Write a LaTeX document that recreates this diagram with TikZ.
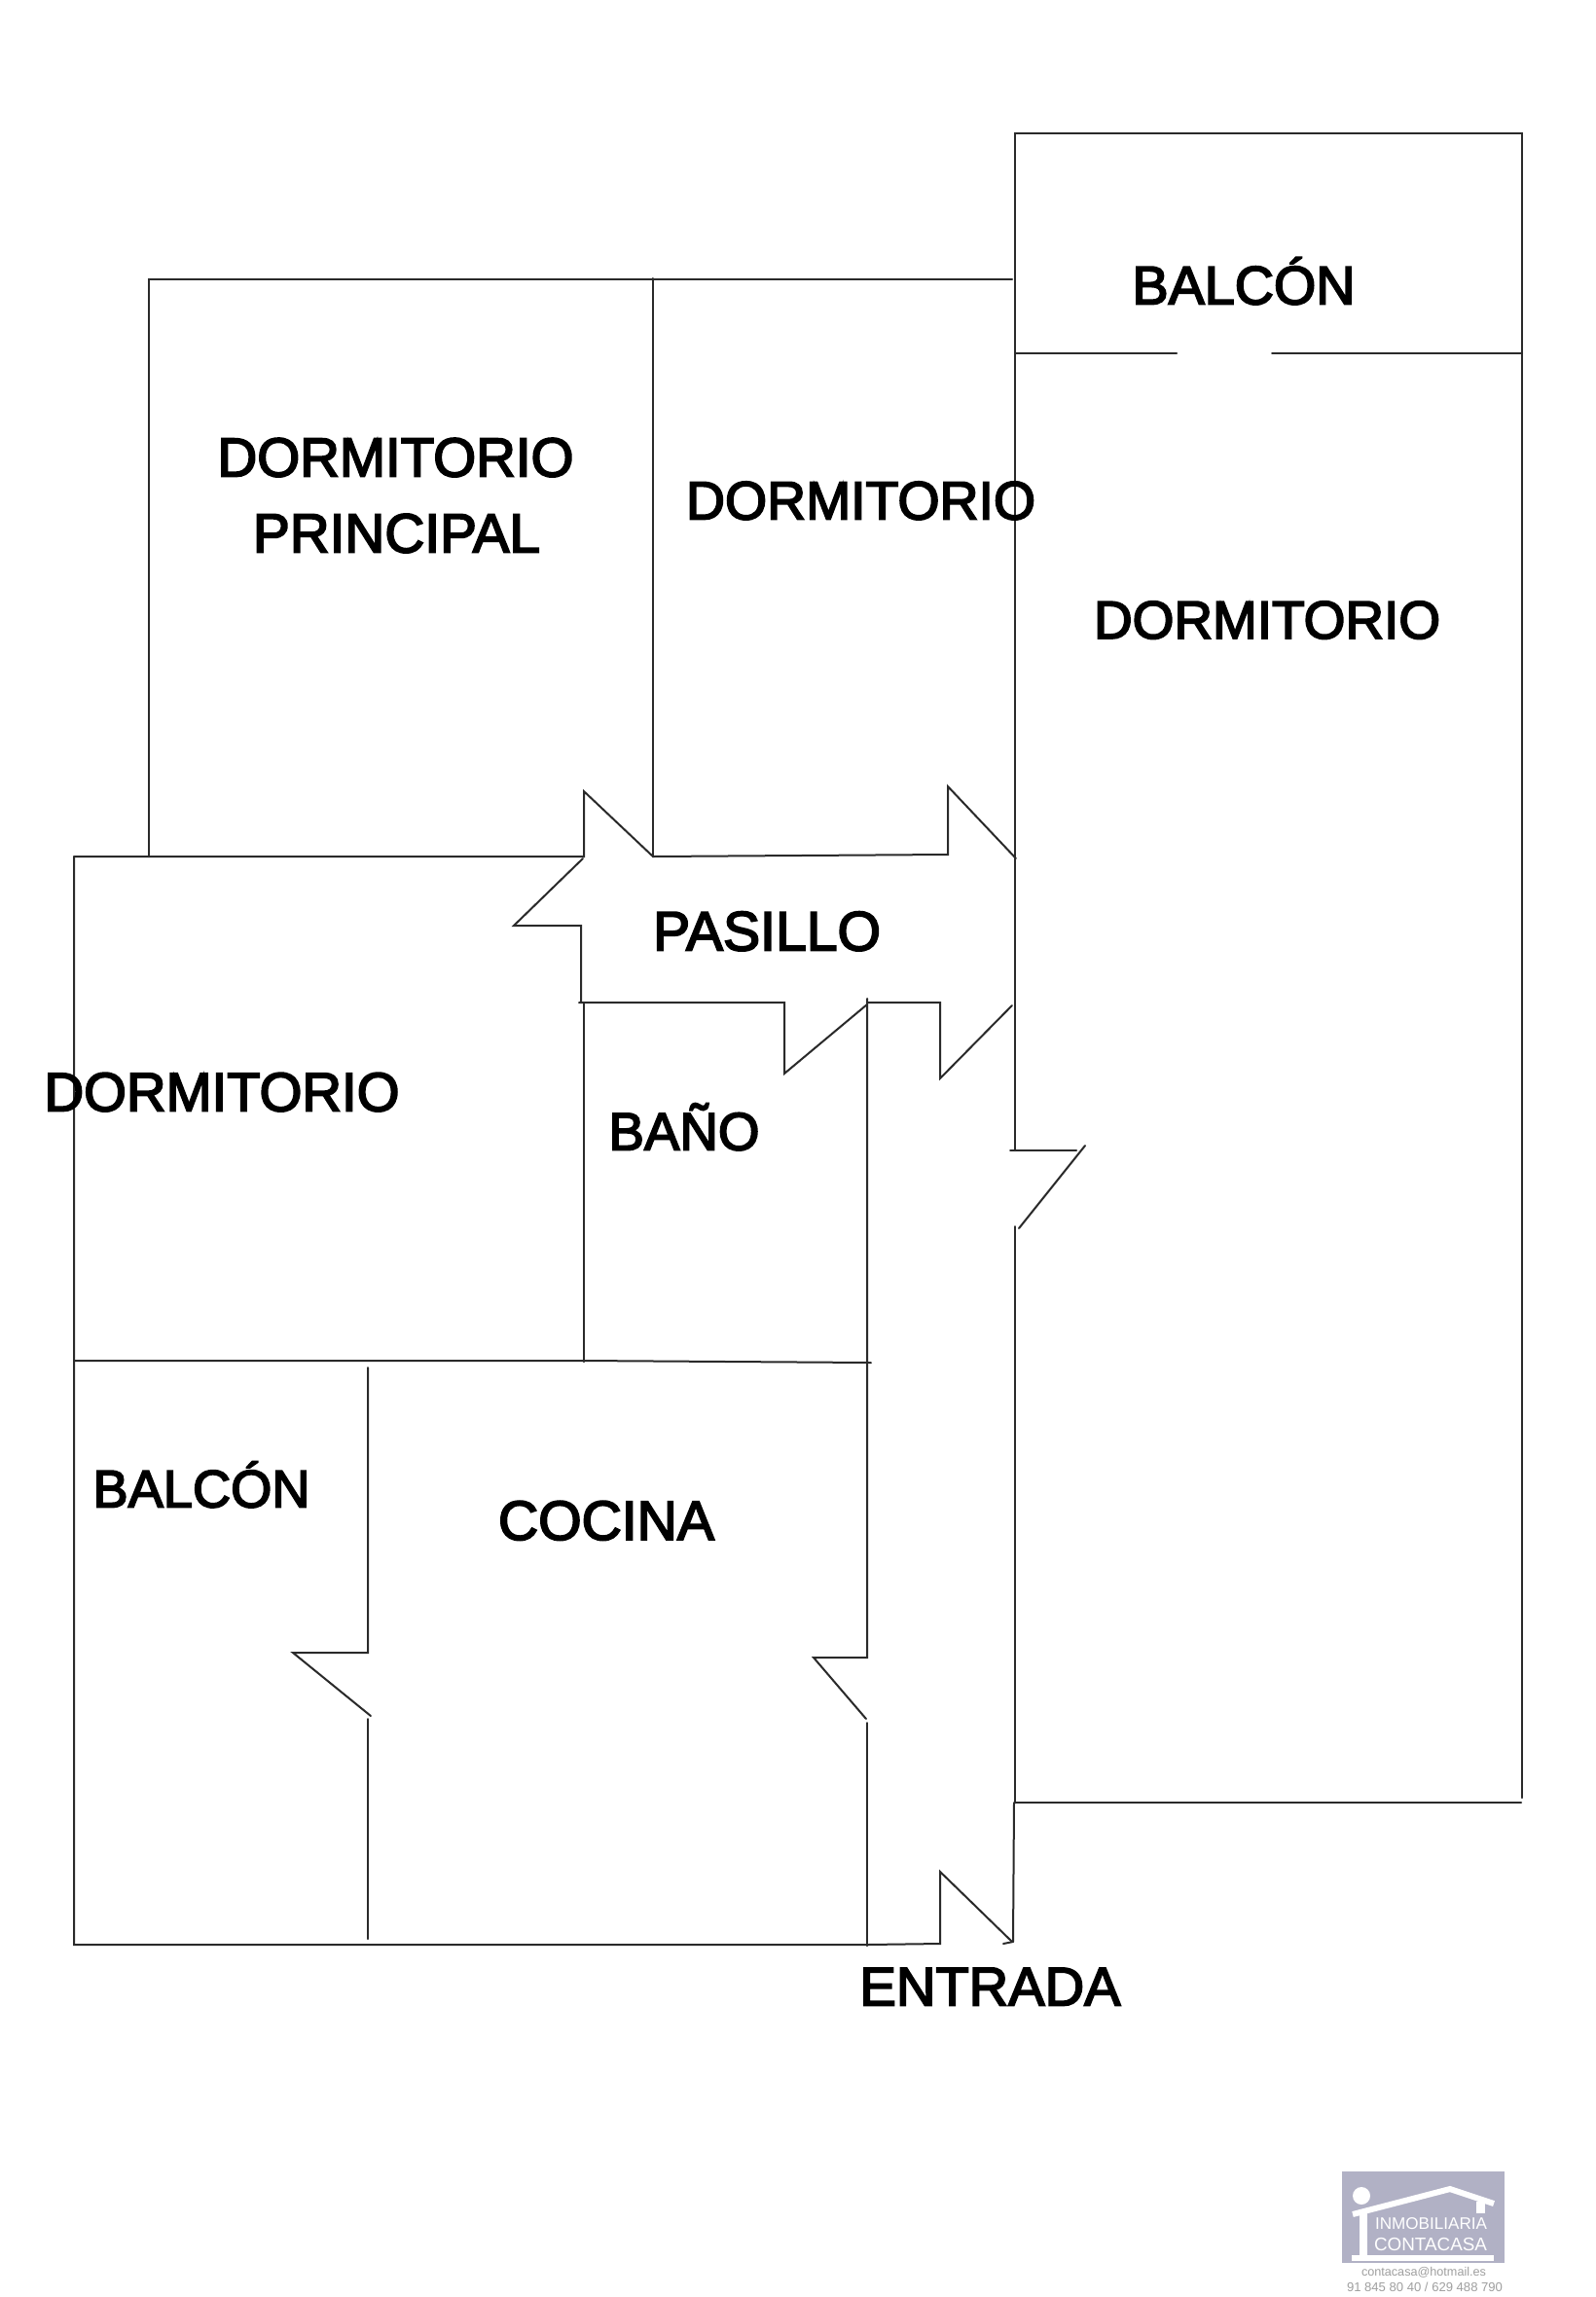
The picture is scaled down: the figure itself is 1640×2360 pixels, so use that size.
\documentclass[tikz,border=0pt]{standalone}
\usepackage{fontspec}
\setmainfont[FakeBold=3.2]{Liberation Sans}
\newfontfamily\plainsans{Liberation Sans}
\definecolor{wallcol}{HTML}{2A2A2A}
\definecolor{logobg}{HTML}{B1B1C5}
\definecolor{logogrey}{HTML}{A0A0A0}
\newcommand{\lbl}[2]{\resizebox{#1pt}{!}{#2}}
\tikzset{
  wall/.style={draw=wallcol,line width=2pt,line cap=round,line join=miter},
  room/.style={anchor=base west,inner sep=0pt,outer sep=0pt,text=black,font=\fontsize{56}{60}\selectfont},
  logotxt/.style={anchor=base west,inner sep=0pt,outer sep=0pt,font=\plainsans\fontsize{12}{14}\selectfont},
  logoline/.style={draw=white,line width=6pt,line join=miter}
}
\begin{document}
\begin{tikzpicture}[x=1pt,y=-1pt]
\useasboundingbox (0,0) rectangle (1640,2360);
\fill[white] (0,0) rectangle (1640,2360);
% outer right block and balcony
\draw[wall] (1043,1182) -- (1043,137) -- (1564,137) -- (1564,1847);
\draw[wall] (1043,363) -- (1209,363);
\draw[wall] (1307,363) -- (1564,363);
% upper bedrooms
\draw[wall] (153,880) -- (153,287) -- (1040,287);
\draw[wall] (671,286) -- (671,880);
% corridor top wall with doors
\draw[wall] (76,880) -- (600,880) -- (600,813) -- (671,880) -- (974,878) -- (974,808) -- (1044,882);
% door into left bedroom
\draw[wall] (599,882) -- (528,951) -- (597,951) -- (597,1030);
% corridor lower wall
\draw[wall] (595,1030) -- (806,1030) -- (806,1103) -- (891,1032);
\draw[wall] (891,1030) -- (966,1030) -- (966,1108) -- (1040,1033);
\draw[wall] (891,1026) -- (891,1703) -- (836,1703) -- (890,1766);
\draw[wall] (891,1770) -- (891,1999);
% right bedroom door
\draw[wall] (1038,1182) -- (1106,1182);
\draw[wall] (1115,1177) -- (1047,1262);
\draw[wall] (1043,1260) -- (1043,1852) -- (1563,1852);
\draw[wall] (1042,1852) -- (1041,1995);
% left part
\draw[wall] (76,880) -- (76,1998) -- (891,1998) -- (966,1997) -- (966,1923) -- (1040,1995);
\draw[wall] (1031,1997) -- (1041,1995);
\draw[wall] (600,1030) -- (600,1399);
\draw[wall] (76,1398) -- (600,1398) -- (895,1400);
% balcony / kitchen wall and doors
\draw[wall] (378,1405) -- (378,1698) -- (301,1698) -- (381,1763);
\draw[wall] (378,1766) -- (378,1992);
% labels
\node[room] (dp1) at (223.5,489.5) {\lbl{366}{DORMITORIO}};
\node[room] (dp2) at (260,567.5) {\lbl{295}{PRINCIPAL}};
\node[room] (d2) at (705,533.5) {\lbl{359}{DORMITORIO}};
\node[room] (d3) at (1124,656) {\lbl{356}{DORMITORIO}};
\node[room] (d4) at (45.5,1141.5) {\lbl{365}{DORMITORIO}};
\node[room] (b1) at (1163.5,312.5) {\lbl{229}{BALCÓN}};
\node[room] (b2) at (95.5,1548.5) {\lbl{223}{BALCÓN}};
\node[room] (pas) at (671,976.5) {\lbl{234}{PASILLO}};
\node[room] (ban) at (625.5,1181.5) {\lbl{155}{BAÑO}};
\node[room] (coc) at (512,1582) {\lbl{222}{COCINA}};
\node[room] (ent) at (883.5,2060.5) {\lbl{268}{ENTRADA}};
% logo
\fill[logobg] (1379,2231) rectangle (1546,2325);
\fill[white] (1399,2256) circle (9);
\draw[logoline] (1390,2275) -- (1490,2249) -- (1535,2264);
\fill[white] (1517,2262) rectangle (1526,2274);
\fill[white] (1397,2274) rectangle (1405,2320);
\fill[white] (1389,2317) rectangle (1535,2323);
\node[logotxt,text=white] (lg1) at (1413,2290) {\lbl{115}{INMOBILIARIA}};
\node[logotxt,text=white] (lg2) at (1412,2312) {\lbl{116}{CONTACASA}};
\node[logotxt,text=logogrey] (lg3) at (1399,2338) {\lbl{128}{contacasa@hotmail.es}};
\node[logotxt,text=logogrey] (lg4) at (1384,2354) {\lbl{160}{91 845 80 40 / 629 488 790}};
\end{tikzpicture}
\end{document}
